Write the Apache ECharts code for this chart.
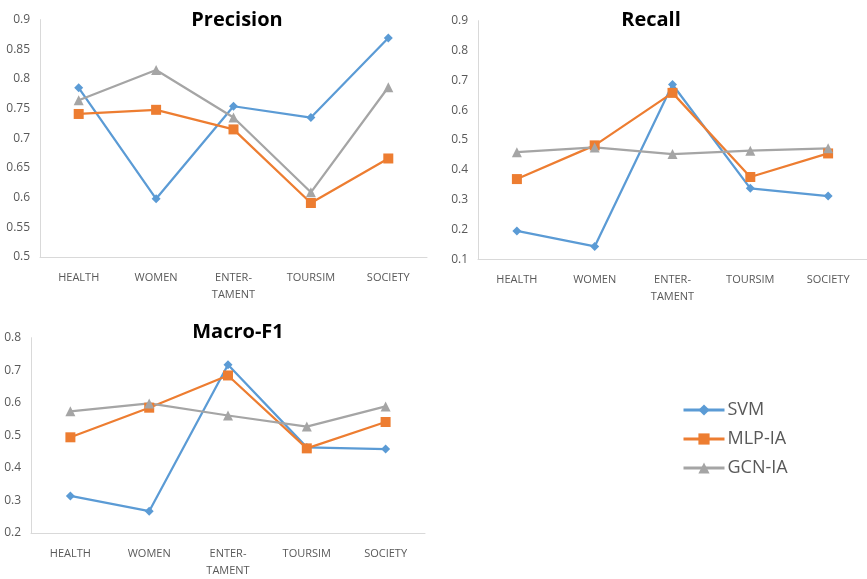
<!DOCTYPE html>
<html>
<head>
<meta charset="utf-8">
<script src="https://cdn.jsdelivr.net/npm/echarts@6/dist/echarts.min.js"></script>
<style>html,body{margin:0;padding:0;background:#fff}#c{width:867px;height:579px}</style>
</head>
<body>
<div id="c"></div>
<script>
const categories = ['HEALTH', 'WOMEN', 'ENTER-\nTAMENT', 'TOURSIM', 'SOCIETY'];
const seriesNames = ['SVM', 'MLP-IA', 'GCN-IA'];
const chartTitles = ['Precision', 'Recall', 'Macro-F1'];

const precisionSVM = [0.785, 0.598, 0.754, 0.735, 0.869];
const precisionMLP = [0.741, 0.748, 0.715, 0.591, 0.666];
const precisionGCN = [0.764, 0.815, 0.735, 0.609, 0.786];

const recallSVM = [0.195, 0.143, 0.686, 0.338, 0.312];
const recallMLP = [0.369, 0.482, 0.658, 0.376, 0.455];
const recallGCN = [0.459, 0.475, 0.453, 0.464, 0.472];

const f1SVM = [0.314, 0.267, 0.717, 0.463, 0.458];
const f1MLP = [0.494, 0.585, 0.684, 0.460, 0.541];
const f1GCN = [0.574, 0.598, 0.561, 0.527, 0.589];

const yMin = [0.5, 0.1, 0.2];
const yMax = [0.9, 0.9, 0.8];
const yStep = [0.05, 0.1, 0.1];

const dataSets = [
  [precisionSVM, precisionMLP, precisionGCN],
  [recallSVM, recallMLP, recallGCN],
  [f1SVM, f1MLP, f1GCN]
];

const colors = ['#5B9BD5', '#ED7D31', '#A5A5A5'];
const symbols = ['diamond', 'rect', 'triangle'];
const symbolSizes = [9, 10, 10];
const FONT = '"Open Sans", "DejaVu Sans", sans-serif';

const grids = [
  {left: 40, top: 19.6, width: 387, height: 237.4},
  {left: 478, top: 20.7, width: 389, height: 238.6},
  {left: 31, top: 337.7, width: 394, height: 201.3}
];
const titlePos = [
  {left: 232, top: 5},
  {left: 646, top: 5},
  {left: 233, top: 317}
];

const option = {
  animation: false,
  backgroundColor: '#ffffff',
  color: colors,
  title: chartTitles.map((t, i) => ({
    text: t,
    left: titlePos[i].left,
    top: titlePos[i].top,
    textAlign: 'center',
    textStyle: {fontFamily: FONT, fontWeight: 'bold', fontSize: 20, color: '#000'}
  })),
  legend: {
    data: seriesNames,
    orient: 'vertical',
    left: 677,
    top: 396,
    itemWidth: 41,
    itemHeight: 14,
    itemGap: 11,
    lineStyle: {width: 3},
    textStyle: {fontFamily: FONT, fontSize: 18, color: '#595959', padding: [0, 0, 0, -2]}
  },
  grid: grids.map(g => Object.assign({containLabel: false}, g)),
  xAxis: grids.map((g, i) => ({
    type: 'category',
    gridIndex: i,
    data: categories,
    boundaryGap: true,
    axisLine: {lineStyle: {color: '#d9d9d9', width: 1}},
    axisTick: {show: false},
    axisLabel: {interval: 0, margin: 12, fontFamily: FONT, fontSize: 11, color: '#595959', lineHeight: 17}
  })),
  yAxis: grids.map((g, i) => ({
    type: 'value',
    gridIndex: i,
    min: yMin[i],
    max: yMax[i],
    interval: yStep[i],
    axisLine: {show: true, lineStyle: {color: '#d9d9d9', width: 1}},
    axisTick: {show: false},
    splitLine: {show: false},
    axisLabel: {
      margin: 10,
      fontFamily: FONT, fontSize: 12, color: '#595959',
      formatter: v => String(+v.toFixed(2))
    }
  })),
  series: []
};

dataSets.forEach((set, gi) => {
  set.forEach((vals, si) => {
    option.series.push({
      name: seriesNames[si],
      type: 'line',
      xAxisIndex: gi,
      yAxisIndex: gi,
      data: vals,
      symbol: symbols[si],
      symbolSize: symbolSizes[si],
      showAllSymbol: true,
      lineStyle: {width: 2.25, color: colors[si]},
      itemStyle: {color: colors[si], borderWidth: 0}
    });
  });
});

const chart = echarts.init(document.getElementById('c'), null, {renderer: 'canvas'});
chart.setOption(option);
</script>
</body>
</html>
